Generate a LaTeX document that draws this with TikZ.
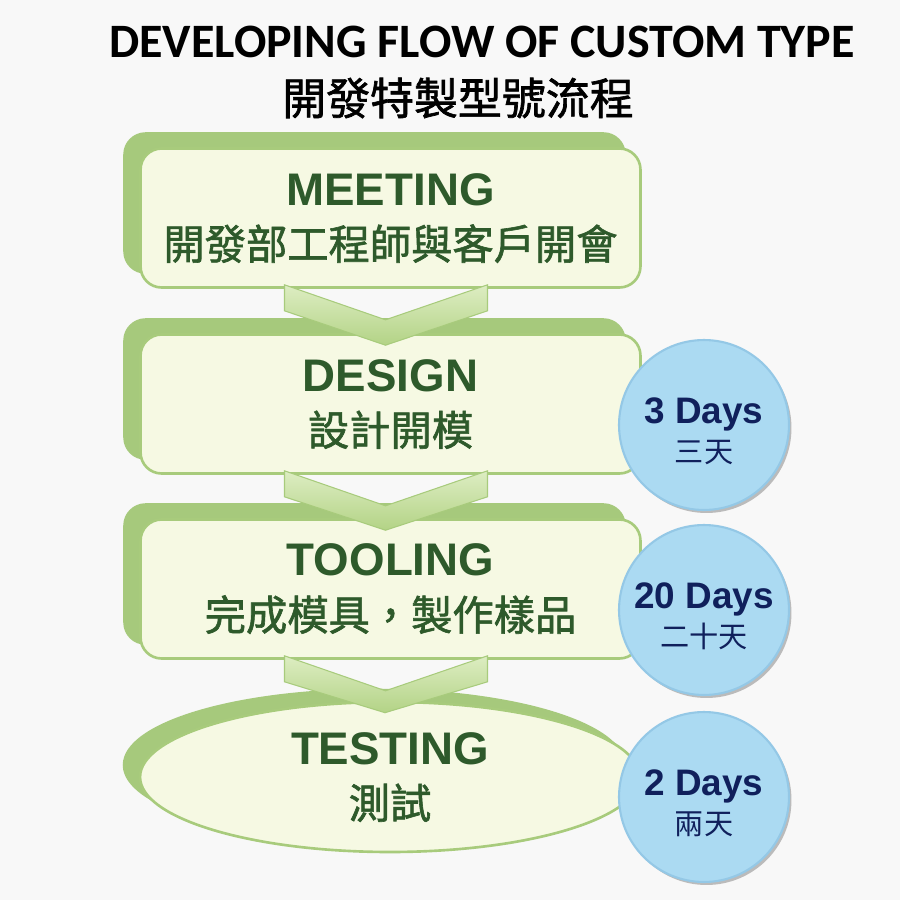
\documentclass[tikz,border=0pt]{standalone}
\usepackage{fontspec}
\usetikzlibrary{shapes.geometric,shadows,calc}
\newfontfamily\titlefont{Carlito}
\newfontfamily\headfont{Liberation Sans}
\newfontfamily\cjk{Noto Sans CJK TC}
\newfontfamily\cjkm[FakeBold=1.5]{Noto Sans CJK TC}
\definecolor{bgcol}{HTML}{F8F8F8}
\definecolor{boxfill}{HTML}{F6F9E3}
\definecolor{boxline}{HTML}{A8CB7C}
\definecolor{boxback}{HTML}{A6C97C}
\definecolor{leaf}{HTML}{2E5A2B}
\definecolor{chevtop}{HTML}{DDEDC2}
\definecolor{chevbot}{HTML}{B3D386}
\definecolor{daysfill}{HTML}{ABDAF2}
\definecolor{daysline}{HTML}{94C8E6}
\definecolor{navy}{HTML}{10205C}
\newcommand{\hd}[1]{{\headfont\bfseries\fontsize{26}{31}\selectfont #1}}
\newcommand{\dy}[1]{{\headfont\bfseries\fontsize{21}{22}\selectfont\rule{0pt}{22pt}#1}}

\begin{document}
\begin{tikzpicture}[x=0.02cm, y=-0.02cm,
  stage/.style={draw=boxline, line width=1.5pt, fill=boxfill, align=center, text=leaf,
    minimum width=10cm, font=\cjkm\fontsize{23.5}{31}\selectfont},
  boxstage/.style={stage, rectangle, rounded corners=0.42cm, minimum height=2.78cm,
    copy shadow={shadow xshift=-0.32cm, shadow yshift=0.3cm, fill=boxback, draw=boxback}},
  ovalstage/.style={stage, ellipse, minimum height=3cm,
    copy shadow={shadow xshift=-0.32cm, shadow yshift=0.24cm, fill=boxback, draw=boxback}},
  days/.style={circle, draw=daysline, line width=1.2pt, fill=daysfill, inner sep=0pt,
    minimum size=3.4cm, align=center, text=navy, font=\cjk\fontsize{16.6}{22}\selectfont,
    drop shadow={shadow xshift=0.05cm, shadow yshift=-0.06cm, opacity=0.5}},
  chev/.style={draw=boxline, line width=0.6pt, top color=chevtop, bottom color=chevbot}]
  \useasboundingbox (0,0) rectangle (900,900);
  \fill[bgcol] (0,0) rectangle (900,900);

  \node[font=\titlefont\bfseries\fontsize{27.3}{32}\selectfont] (title) at (482,42)
  {DEVELOPING FLOW OF CUSTOM TYPE};
  \node[font=\cjkm\fontsize{25}{30}\selectfont] (subtitle) at (458,98)
  {開發特製型號流程};

  \node[boxstage] (meet) at (390.5,218) {\hd{MEETING}\\開發部工程師與客戶開會};
  \node[boxstage] (design) at (390.5,404) {\hd{DESIGN}\\設計開模};
  \node[boxstage] (tool) at (390.5,589) {\hd{TOOLING}\\完成模具，製作樣品};
  \node[ovalstage] (test) at (390,777) {\hd{TESTING}\\測試};

  \foreach \a/\b in {meet/design, design/tool, tool/test}
    \draw[chev] ($(\a.south)+(-106,-4)$) -- ($(\a.south)+(-5,31)$) -- ($(\a.south)+(97,-4)$)
      -- ($(\a.south)+(97,22)$) -- ($(\b.north)+(-5,12)$) -- ($(\a.south)+(-106,22)$) -- cycle;

  \node[days] (d1) at (704,425) {\dy{3 Days}\\三天};
  \node[days] (d2) at (704,610) {\dy{20 Days}\\二十天};
  \node[days] (d3) at (704,797) {\dy{2 Days}\\兩天};
\end{tikzpicture}
\end{document}
